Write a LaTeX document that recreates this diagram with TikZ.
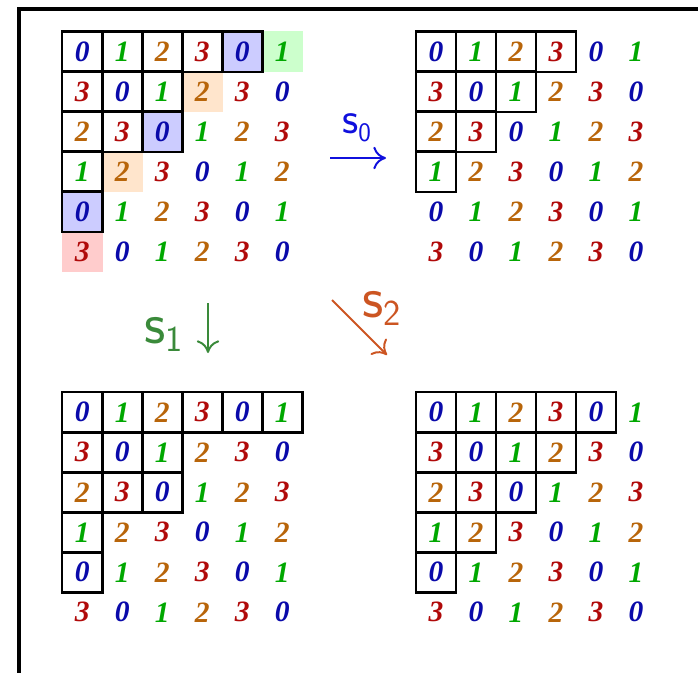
\documentclass[tikz,border=0pt]{standalone}
\usepackage{fontspec}
\usepackage{xcolor}
\usepackage{tikz}
\usetikzlibrary{arrows.meta,backgrounds}
\newfontfamily\numfont{Liberation Serif}
\definecolor{dig0}{HTML}{0A0AAA}
\definecolor{dig1}{HTML}{00A800}
\definecolor{dig2}{HTML}{B8650A}
\definecolor{dig3}{HTML}{B00A0A}
\definecolor{fill0}{HTML}{CCCCFF}
\definecolor{fill1}{HTML}{CCFFCC}
\definecolor{fill2}{HTML}{FFE5CC}
\definecolor{fill3}{HTML}{FFCCCC}
\definecolor{lab0}{HTML}{1010DD}
\definecolor{lab1}{HTML}{3A8A3A}
\definecolor{lab2}{HTML}{CC5522}
\tikzset{
  cell/.style={minimum size=1cm, inner sep=0pt, font=\numfont\bfseries\itshape\fontsize{21}{21}\selectfont},
  box/.style={draw, line width=1.6pt},
  move/.style={-{To[length=9pt,width=16pt]}, line width=1.4pt},
  slab/.style={anchor=base west, inner sep=0pt, font=\sffamily}
}
% 6x6 array of residues, cells named <prefix>-<row>-<col>
\newcommand{\numgrid}[1]{%
  \foreach \r in {1,...,6}{\foreach \c in {1,...,6}{%
    \pgfmathtruncatemacro{\v}{mod(\c-\r+8,4)}%
    \node[cell, text=dig\v] (#1-\r-\c) at (\c-0.5,-\r+0.5) {\v};}}}
\newcommand{\sname}[3]{{\fontsize{#1}{#1}\selectfont s}\raisebox{-6pt}{\fontsize{#2}{#2}\selectfont #3}}

\begin{document}
\begin{tikzpicture}
  \useasboundingbox (0,0) rectangle (17.45,-16.825);
  \draw[line width=2.8pt] (0.48,-16.9) -- (0.48,-0.225) -- (17.5,-0.225);

  % top left
  \begin{scope}[shift={(1.5575,-0.7925)}]
    \numgrid{tl}
    \foreach \r/\n in {1/5,2/3,3/3,4/1,5/1}{\foreach \c in {1,...,\n}{
      \draw[box] (tl-\r-\c.north west) rectangle (tl-\r-\c.south east);}}
  \end{scope}
  \begin{pgfonlayer}{background}
    \foreach \r/\c/\k in {1/5/0,1/6/1,2/4/2,3/3/0,4/2/2,5/1/0,6/1/3}
      \fill[fill\k] (tl-\r-\c.north west) rectangle (tl-\r-\c.south east);
  \end{pgfonlayer}

  % top right
  \begin{scope}[shift={(10.4,-0.7925)}]
    \numgrid{tr}
    \foreach \r/\n in {1/4,2/3,3/2,4/1}{\foreach \c in {1,...,\n}{
      \draw[box] (tr-\r-\c.north west) rectangle (tr-\r-\c.south east);}}
  \end{scope}

  % bottom left
  \begin{scope}[shift={(1.5575,-9.8075)}]
    \numgrid{bl}
    \foreach \r/\n in {1/6,2/3,3/3,4/1,5/1}{\foreach \c in {1,...,\n}{
      \draw[box] (bl-\r-\c.north west) rectangle (bl-\r-\c.south east);}}
  \end{scope}

  % bottom right
  \begin{scope}[shift={(10.4,-9.8075)}]
    \numgrid{br}
    \foreach \r/\n in {1/5,2/4,3/3,4/2,5/1}{\foreach \c in {1,...,\n}{
      \draw[box] (br-\r-\c.north west) rectangle (br-\r-\c.south east);}}
  \end{scope}

  % moves
  \coordinate (m0a) at (8.25,-3.95);
  \coordinate (m0b) at (9.65,-3.95);
  \coordinate (m1a) at (5.2,-7.575);
  \coordinate (m1b) at (5.2,-8.825);
  \coordinate (m2a) at (8.3,-7.5);
  \coordinate (m2b) at (9.675,-8.875);
  \draw[move, lab0] (m0a) -- (m0b);
  \draw[move, lab1] (m1a) -- (m1b);
  \draw[move, lab2] (m2a) -- (m2b);
  \node[slab, text=lab0] (s0) at (8.55,-3.325) {\sname{32}{19}{0}};
  \node[slab, text=lab1] (s1) at (3.6,-8.575) {\sname{42}{26}{1}};
  \node[slab, text=lab2] (s2) at (9.05,-7.925) {\sname{42}{26}{2}};
\end{tikzpicture}
\end{document}
